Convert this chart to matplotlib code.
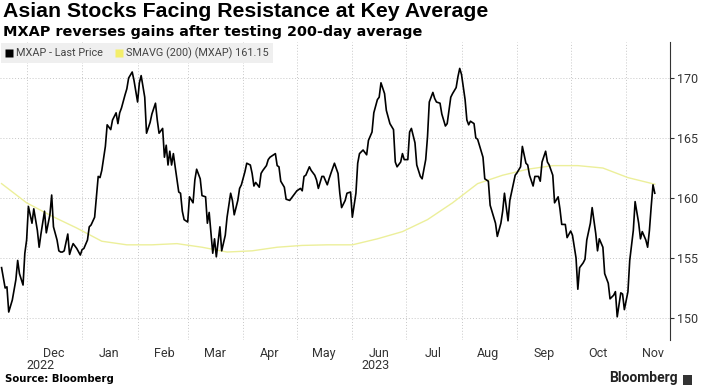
import pandas as pd
import matplotlib
matplotlib.use("Agg")
import matplotlib.pyplot as plt
import matplotlib.dates as mdates
from matplotlib.lines import Line2D
from matplotlib.patches import Rectangle
from matplotlib.transforms import blended_transform_factory

plt.rcParams['font.family'] = ['Roboto', 'DejaVu Sans']

start = pd.Timestamp("2022-11-17")

# MXAP last price (calendar days since 2022-11-17)
mxap_days = [
    0, 2, 3, 4, 6, 8, 9, 10, 12, 13, 14, 15, 17, 18, 20, 21, 22, 24, 25, 27,
    28, 29, 31, 32, 33, 34, 35, 37, 38, 39, 40, 42, 44, 45, 46, 48, 49, 50, 52, 54,
    55, 56, 58, 59, 61, 62, 64, 65, 66, 67, 69, 70, 71, 73, 74, 76, 77, 78, 80, 81,
    83, 84, 86, 87, 88, 90, 91, 92, 93, 94, 95, 96, 97, 99, 100, 101, 102, 104, 105, 107,
    108, 109, 111, 112, 114, 115, 116, 118, 119, 120, 122, 123, 125, 126, 128, 129, 130, 132, 133, 134,
    136, 137, 139, 140, 141, 142, 144, 145, 146, 148, 149, 150, 152, 153, 154, 155, 156, 158, 159, 161,
    162, 164, 165, 167, 168, 169, 170, 172, 173, 175, 176, 177, 179, 180, 182, 183, 184, 186, 188, 189,
    190, 192, 193, 195, 196, 198, 199, 200, 202, 203, 204, 205, 207, 208, 210, 211, 212, 214, 215, 217,
    219, 220, 221, 223, 224, 225, 227, 228, 229, 231, 232, 234, 235, 237, 238, 239, 241, 242, 243, 245,
    246, 248, 249, 251, 252, 254, 255, 256, 257, 259, 260, 261, 262, 264, 265, 266, 269, 270, 272, 273,
    274, 276, 277, 279, 280, 281, 283, 284, 286, 287, 288, 290, 291, 293, 294, 295, 297, 298, 300, 301,
    302, 304, 305, 306, 308, 309, 311, 312, 313, 315, 316, 318, 319, 321, 322, 323, 325, 326, 327, 329,
    330, 332, 333, 334, 336, 337, 339, 340, 342, 343, 344, 346, 347, 348, 350, 351, 353, 354, 356, 357,
    358, 360, 361, 362, 363, 364, 365,
]
mxap = [
    154.2, 152.5, 152.6, 150.5, 151.5, 153.2, 154.8, 153.7, 152.75, 155.4,
    156.5, 159.3, 157.9, 159.1, 157.3, 155.9, 157.0, 158.9, 157.1, 158.6,
    160.25, 157.6, 156.5, 155.6, 155.5, 155.5, 155.6, 157.0, 155.3, 155.8,
    156.2, 155.8, 155.25, 155.7, 155.8, 156.5, 157.6, 157.75, 158.4, 161.8,
    161.7, 162.3, 164.3, 166.1, 165.7, 166.5, 167.1, 166.2, 167.1, 167.5,
    168.6, 169.1, 170.0, 170.5, 169.8, 168.0, 169.6, 170.2, 168.4, 165.4,
    166.3, 167.0, 167.9, 166.5, 165.4, 165.8, 163.4, 164.4, 162.75, 163.9,
    162.75, 163.7, 162.6, 160.5, 160.4, 158.9, 158.2, 158.0, 160.1, 159.6,
    161.5, 162.4, 161.6, 160.2, 160.1, 157.9, 158.8, 155.4, 156.6, 155.1,
    157.6, 155.6, 156.9, 158.4, 160.4, 159.8, 158.6, 159.8, 160.8, 161.1,
    162.2, 162.9, 162.75, 162.05, 161.0, 161.3, 160.9, 162.05, 162.3, 162.7,
    163.2, 163.4, 163.6, 163.7, 162.7, 162.6, 161.4, 160.9, 159.9, 159.8,
    160.0, 160.4, 160.6, 160.8, 160.6, 161.8, 161.9, 162.6, 162.3, 161.9,
    161.5, 160.8, 161.8, 161.8, 161.1, 161.6, 162.05, 162.9, 162.05, 160.4,
    159.2, 159.8, 160.4, 160.5, 158.4, 160.4, 162.9, 163.7, 164.0, 163.8,
    163.6, 164.8, 165.5, 167.1, 168.2, 168.4, 169.6, 168.7, 167.3, 166.2,
    165.7, 163.0, 162.6, 163.0, 163.7, 163.2, 163.2, 165.5, 165.8, 164.6,
    162.75, 161.8, 161.6, 163.2, 165.1, 168.0, 168.8, 168.3, 168.0, 167.9,
    167.0, 166.0, 166.2, 168.4, 168.7, 169.2, 170.1, 170.8, 170.3, 168.2,
    166.5, 166.1, 166.4, 166.2, 165.0, 164.9, 163.4, 161.6, 161.4, 159.4,
    158.9, 157.9, 156.8, 157.9, 158.9, 160.4, 158.1, 159.8, 161.2, 161.9,
    162.1, 162.6, 164.3, 162.9, 162.75, 161.9, 161.0, 161.8, 161.8, 161.4,
    163.0, 163.9, 163.0, 162.75, 161.9, 159.6, 160.1, 159.1, 157.8, 157.8,
    156.7, 157.25, 156.9, 155.0, 152.4, 154.2, 154.6, 154.9, 156.5, 157.9,
    159.2, 157.05, 155.6, 156.6, 155.9, 153.7, 152.9, 151.6, 151.9, 152.2,
    150.1, 152.1, 152.0, 150.7, 152.2, 154.8, 157.3, 159.7, 157.9, 156.6,
    157.2, 156.5, 155.9, 157.3, 159.3, 161.1, 160.4,
]

# 200-day simple moving average
sma_days = [0, 14, 28, 42, 56, 70, 84, 98, 112, 126, 140, 154, 168, 182,
            196, 210, 224, 238, 252, 266, 280, 294, 308, 322, 336, 350, 365]
sma = [161.2, 159.6, 158.5, 157.5, 156.4, 156.1, 156.1, 156.2, 155.9, 155.5,
       155.6, 155.9, 156.05, 156.1, 156.1, 156.6, 157.2, 158.2, 159.6, 161.2,
       161.9, 162.4, 162.7, 162.7, 162.5, 161.7, 161.15]

y_ticks = [150, 155, 160, 165, 170]

mxap_dates = start + pd.to_timedelta(mxap_days, unit="D")
sma_dates = start + pd.to_timedelta(sma_days, unit="D")

fig = plt.figure(figsize=(7.01, 3.91), dpi=100)
ax = fig.add_axes([0.0, 1 - 340 / 391, 670 / 701, (340 - 42) / 391])

ax.plot(sma_dates, sma, color="#ecef9a", lw=1.0, zorder=2)
ax.plot(mxap_dates, mxap, color="black", lw=1.2, zorder=3)

ax.set_xlim(pd.Timestamp("2022-11-16 03:00"), pd.Timestamp("2023-11-25 12:00"))
ax.set_ylim(148.17, 173.0)

ax.xaxis.set_major_locator(mdates.MonthLocator())
ax.xaxis.set_major_formatter(plt.NullFormatter())
ax.xaxis.set_minor_locator(mdates.MonthLocator(bymonthday=16))
ax.xaxis.set_minor_formatter(mdates.DateFormatter("%b"))
ax.tick_params(axis="x", which="both", length=0, pad=5, labelsize=9, labelcolor="#333333")

ax.yaxis.tick_right()
ax.set_yticks(y_ticks)
ax.tick_params(axis="y", length=3, width=0.8, color="#333333", pad=2,
               labelsize=9, labelcolor="#333333")

for s in ["top", "left", "bottom"]:
    ax.spines[s].set_visible(False)
ax.spines["right"].set_color("#333333")
ax.spines["right"].set_linewidth(0.8)

ax.grid(which="major", color="#c8c8c8", linestyle=(0, (1, 2)), lw=0.7)
ax.set_axisbelow(True)

# year labels under the first month of each year
trans = blended_transform_factory(ax.transData, ax.transAxes)
ax.text(pd.Timestamp("2022-12-09"), -0.065, "2022", transform=trans, ha="center",
        va="top", fontsize=9, color="#333333")
ax.text(pd.Timestamp("2023-06-14"), -0.065, "2023", transform=trans, ha="center",
        va="top", fontsize=9, color="#333333")

handles = [
    Line2D([], [], marker="s", ls="none", markerfacecolor="black",
           markeredgecolor="none", markersize=6),
    Line2D([], [], marker="s", ls="none", markerfacecolor="#f3ee6a",
           markeredgecolor="none", markersize=6),
]
leg = ax.legend(handles, ["MXAP - Last Price", "SMAVG (200) (MXAP) 161.15"],
                loc="upper left", bbox_to_anchor=(0.0, 1.0), ncol=2,
                frameon=True, fancybox=False, facecolor="#efefef",
                edgecolor="none", framealpha=1, fontsize=7.8,
                handlelength=0.7, handletextpad=0.3, columnspacing=1.1,
                borderpad=0.4, borderaxespad=0.1)
for t in leg.get_texts():
    t.set_color("#444444")

fig.text(0.004, 1 - 2 / 391, "Asian Stocks Facing Resistance at Key Average",
         ha="left", va="top", fontsize=15.3, fontweight="bold",
         family="Liberation Sans", color="black")
fig.text(0.004, 1 - 25 / 391, "MXAP reverses gains after testing 200-day average",
         ha="left", va="top", fontsize=10.4, fontweight="bold",
         family="DejaVu Sans", color="black")
fig.text(0.007, 1 - 374 / 391, "Source: Bloomberg", ha="left", va="top",
         fontsize=7.3, fontweight="bold", family="DejaVu Sans", color="black")
fig.text(678 / 701, 1 - 371 / 391, "Bloomberg", ha="right", va="top",
         fontsize=10, fontweight="bold", color="#222222")
fig.patches.append(Rectangle((683 / 701, 1 - 385 / 391), 9 / 701, 10 / 391,
                             transform=fig.transFigure, facecolor="#333333",
                             edgecolor="none"))

fig.savefig("out.png", dpi=100)
